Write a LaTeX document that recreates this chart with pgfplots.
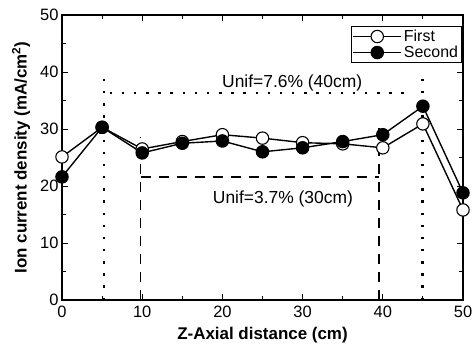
\documentclass[border=0pt]{standalone}
\usepackage{pgfplots}
\pgfplotsset{compat=1.18}
\usepackage{fontspec}
\setmainfont{Liberation Sans}
\begin{document}
\begin{tikzpicture}
\begin{axis}[
  scale only axis, width=401bp, height=285bp,
  xmin=0, xmax=50, ymin=0, ymax=50,
  xtick={0,10,...,50}, ytick={0,10,...,50},
  minor xtick={5,15,...,45}, minor ytick={5,15,...,45},
  tick align=inside, tick pos=both,
  major tick length=6bp, minor tick length=4bp,
  axis line style={line width=1.2pt},
  tick style={line width=1pt, black},
  /pgf/number format/assume math mode=true,
  ticklabel style={font=\fontsize{16.5}{18}\selectfont},
  xticklabel style={yshift=-2bp},
  xlabel={\bfseries Z-Axial distance (cm)},
  ylabel={\bfseries Ion current density (mA/cm\textsuperscript{2})},
  label style={font=\fontsize{17}{19}\selectfont},
  xlabel style={at={(axis description cs:0.5,-0.122)}, anchor=center},
  ylabel style={at={(axis description cs:-0.102,0.5)}, anchor=center},
  clip=false,
  legend style={at={(axis description cs:1,1)}, anchor=north east, xshift=-1bp, yshift=-11bp,
    draw=black, line width=1pt, font=\fontsize{16}{18}\selectfont,
    inner sep=1.5bp, row sep=-1bp, legend cell align=left},
  legend image code/.code={\draw[mark repeat=2, mark phase=2, line width=1.4pt] plot coordinates {(0bp,0bp) (24bp,0bp) (48bp,0bp)};},
]
\addplot[black, line width=1.4pt, mark=*, mark size=6.2bp, mark options={fill=white, line width=1.1pt}]
coordinates {(0,25.1) (5,30.3) (10,26.5) (15,27.8) (20,29.0) (25,28.4) (30,27.6) (35,27.4) (40,26.7) (45,30.9) (50,15.8)};
\addlegendentry{First}
\addplot[black, line width=1.4pt, mark=*, mark size=6.2bp, mark options={fill=black, line width=1.1pt}]
coordinates {(0,21.6) (5,30.3) (10,25.8) (15,27.5) (20,27.9) (25,26.0) (30,26.7) (35,27.8) (40,29.0) (45,34.0) (50,18.8)};
\addlegendentry{Second}
\draw[line width=2.4pt, dash pattern=on 2.4pt off 9.8pt] (axis cs:5.2,0) -- (axis cs:5.2,39.5);
\draw[line width=2.4pt, dash pattern=on 2.4pt off 9.8pt] (axis cs:44.95,0) -- (axis cs:44.95,38.9);
\draw[line width=2.4pt, dash pattern=on 2.4pt off 9.8pt] (axis cs:5.95,36.3) -- (axis cs:43.8,36.3);
\draw[line width=1.8pt, dash pattern=on 10bp off 8bp] (axis cs:9.8,0) -- (axis cs:9.8,28.6);
\draw[line width=1.8pt, dash pattern=on 10bp off 8bp] (axis cs:39.5,0) -- (axis cs:39.5,31.1);
\draw[line width=1.8pt, dash pattern=on 10bp off 8bp] (axis cs:9.8,21.6) -- (axis cs:39.5,21.6);
\node[font=\fontsize{17.5}{19}\selectfont, anchor=base] at (axis cs:28.7,37.2) {Unif=7.6\% (40cm)};
\node[font=\fontsize{17.5}{19}\selectfont, anchor=base] at (axis cs:27.55,16.96) {Unif=3.7\% (30cm)};
\end{axis}
\pgfresetboundingbox
\path (current axis.south west) ++(-62bp,-54bp) coordinate (bbA);
\path (current axis.north east) ++(11bp,15bp) coordinate (bbB);
\useasboundingbox (bbA) rectangle (bbB);
\end{tikzpicture}
\end{document}
